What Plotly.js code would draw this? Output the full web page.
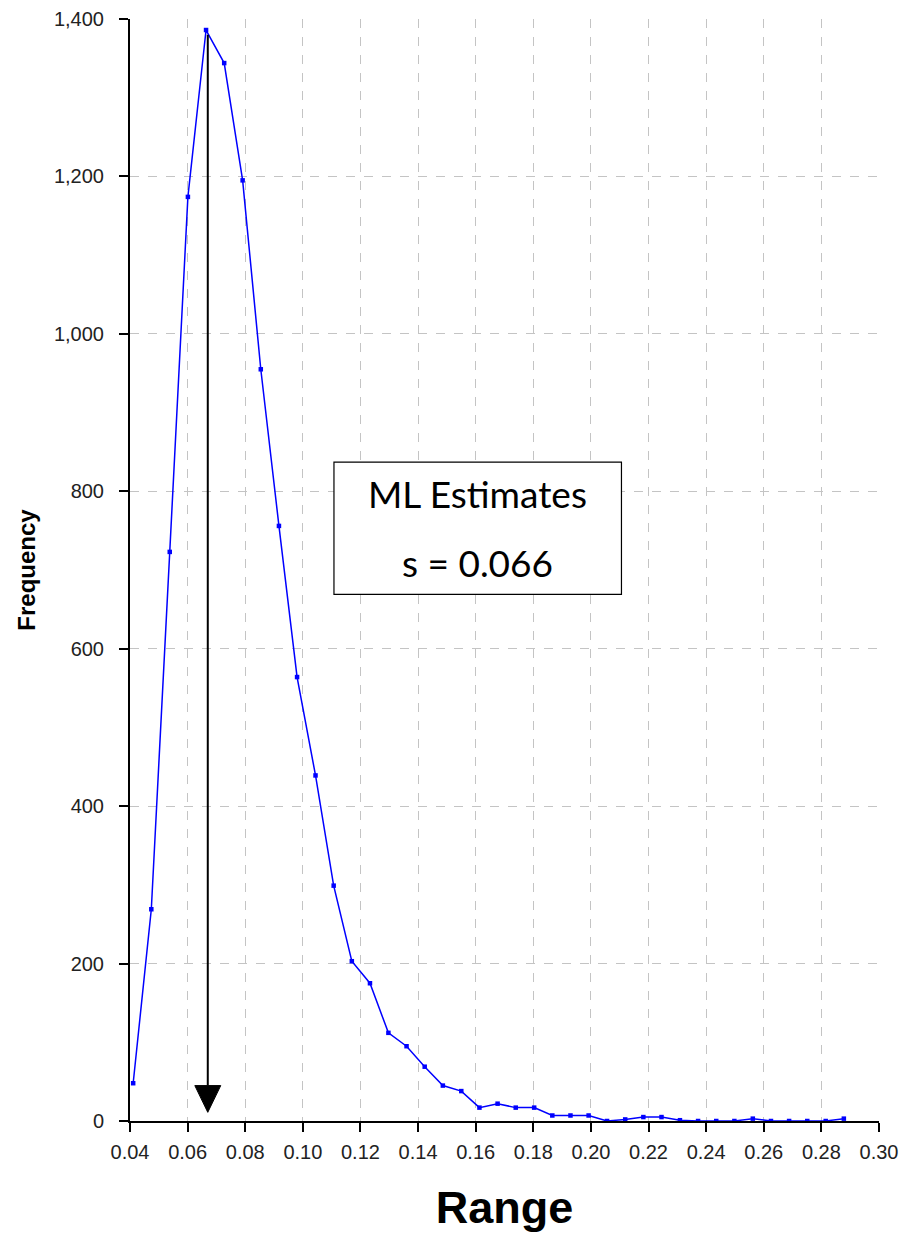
<!DOCTYPE html>
<html>
<head>
<meta charset="utf-8">
<script src="https://cdn.plot.ly/plotly-3.0.1.min.js"></script>
<style>html,body{margin:0;padding:0;background:#fff;}#chart{width:913px;height:1235px;}</style>
</head>
<body>
<div id="chart"></div>
<script>
const rangeX = [0.0411, 0.0474, 0.0538, 0.0601, 0.0664, 0.0727, 0.0791, 0.0854, 0.0917, 0.0980,
                0.1044, 0.1107, 0.1170, 0.1233, 0.1297, 0.1360, 0.1423, 0.1486, 0.1550, 0.1613,
                0.1676, 0.1739, 0.1803, 0.1866, 0.1929, 0.1992, 0.2056, 0.2119, 0.2182, 0.2245,
                0.2309, 0.2372, 0.2435, 0.2498, 0.2562, 0.2625, 0.2688, 0.2751, 0.2815, 0.2878];
const frequency = [48, 269, 723, 1174, 1386, 1344, 1195, 955, 756, 564,
                   439, 299, 203, 175, 112, 95, 69, 45, 38, 17,
                   22, 17, 17, 7, 7, 7, 0, 2, 5, 5,
                   1, 0, 0, 0, 3, 0, 0, 0, 0, 3];
const xTickVals = [0.04,0.06,0.08,0.10,0.12,0.14,0.16,0.18,0.20,0.22,0.24,0.26,0.28,0.30];
const xTickText = ['0.04','0.06','0.08','0.10','0.12','0.14','0.16','0.18','0.20','0.22','0.24','0.26','0.28','0.30'];
const yTickVals = [0,200,400,600,800,1000,1200,1400];
const yTickText = ['0','200','400','600','800','1,000','1,200','1,400'];
const estimateLabel = 'ML Estimates';
const estimateText = 's = 0.066';
const estimateValue = 0.067;

const tickFont = {family: '"Liberation Sans Narrow", "Arial Narrow", "Liberation Sans", sans-serif', size: 20, color: '#222'};

const trace = {
  x: rangeX, y: frequency, type: 'scatter', mode: 'lines+markers',
  line: {color: '#0000ff', width: 1.5},
  marker: {color: '#0000ff', size: 4.5, symbol: 'square'},
  hoverinfo: 'x+y'
};

const layout = {
  width: 913, height: 1235,
  margin: {l: 130, r: 34, t: 19, b: 114},
  paper_bgcolor: '#ffffff', plot_bgcolor: '#ffffff',
  showlegend: false,
  xaxis: {
    range: [0.04, 0.30], tickvals: xTickVals, ticktext: xTickText,
    showgrid: true, gridcolor: '#c4c4c4', griddash: 'dash', gridwidth: 1,
    showline: true, linecolor: '#000', linewidth: 2,
    ticks: 'outside', ticklen: 9, tickwidth: 2, tickcolor: '#000',
    tickfont: tickFont, zeroline: false, ticklabelstandoff: 3,
    title: {text: 'Range', font: {family: '"Liberation Sans", Arial, sans-serif', size: 45, color: '#000', weight: 'bold'}, standoff: 29}
  },
  yaxis: {
    range: [0, 1400], tickvals: yTickVals, ticktext: yTickText,
    showgrid: true, gridcolor: '#c4c4c4', griddash: 'dash', gridwidth: 1,
    showline: true, linecolor: '#000', linewidth: 2,
    ticks: 'outside', ticklen: 9, tickwidth: 2, tickcolor: '#000',
    tickfont: tickFont, zeroline: false, ticklabelstandoff: 11,
    title: {text: 'Frequency', font: {family: '"Liberation Sans", Arial, sans-serif', size: 24, color: '#000', weight: 'bold'}, standoff: 12}
  },
  shapes: [
    {type: 'rect', xref: 'x', yref: 'y', x0: 0.1108, x1: 0.2106, y0: 669, y1: 837,
     line: {color: '#000', width: 1.2}, fillcolor: '#fff', layer: 'above'},
    {type: 'line', xref: 'x', yref: 'y', x0: estimateValue, x1: estimateValue, y0: 45, y1: 1380,
     line: {color: '#000', width: 2}},
    {type: 'path', xref: 'x', yref: 'y',
     path: 'M 0.0625,45 L 0.0715,45 L 0.067,11 Z',
     fillcolor: '#000', line: {color: '#000', width: 1}}
  ],
  annotations: [
    {xref: 'x', yref: 'y', x: 0.1607, y: 797, text: estimateLabel, showarrow: false,
     font: {family: 'Lato, "Open Sans", sans-serif', size: 37, color: '#000'}},
    {xref: 'x', yref: 'y', x: 0.1607, y: 709, text: estimateText, showarrow: false,
     font: {family: 'Lato, "Open Sans", sans-serif', size: 37, color: '#000'}}
  ]
};

Plotly.newPlot('chart', [trace], layout, {displayModeBar: false, staticPlot: true});
</script>
</body>
</html>
